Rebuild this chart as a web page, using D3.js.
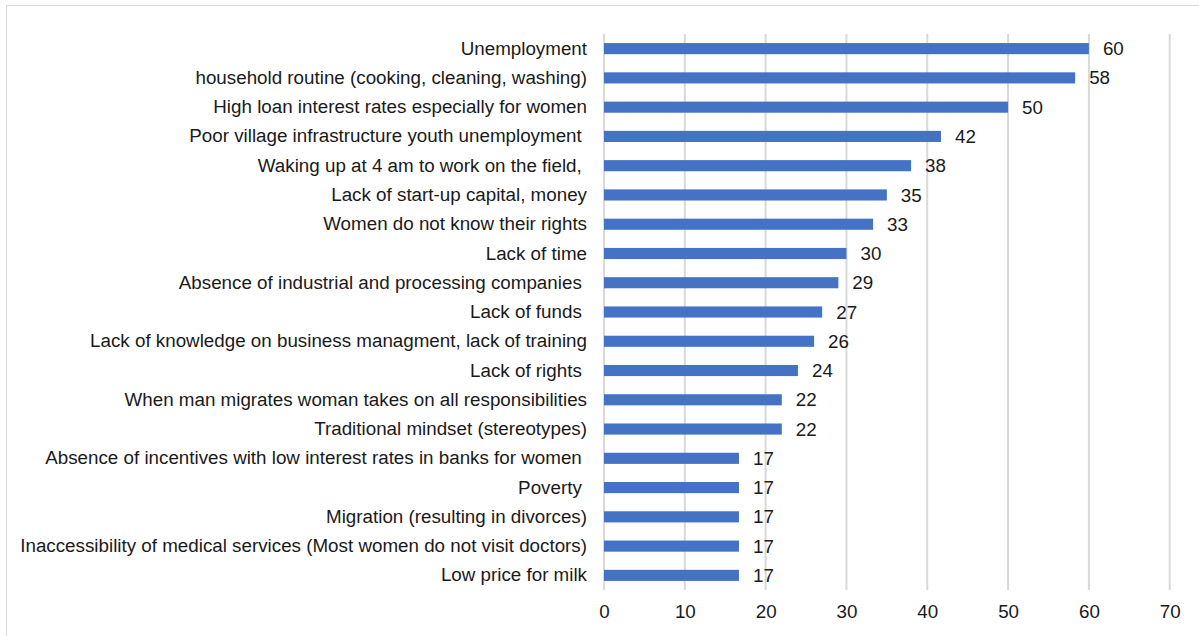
<!DOCTYPE html>
<html>
<head>
<meta charset="utf-8">
<script src="https://cdn.jsdelivr.net/npm/d3@7"></script>
<style>
  body { margin: 0; background: #fff; }
  text { font-family: "Liberation Sans", Arial, sans-serif; fill: #1a1a1a; white-space: pre; }
</style>
</head>
<body>
<div id="chart-area"></div>
<script>
// data (labels show rounded values)
var categories = [
    "Unemployment",
    "household routine (cooking, cleaning, washing)",
    "High loan interest rates especially for women",
    "Poor village infrastructure youth unemployment ",
    "Waking up at 4 am to work on the field, ",
    "Lack of start-up capital, money",
    "Women do not know their rights",
    "Lack of time",
    "Absence of industrial and processing companies ",
    "Lack of funds ",
    "Lack of knowledge on business managment, lack of training",
    "Lack of rights ",
    "When man migrates woman takes on all responsibilities",
    "Traditional mindset (stereotypes)",
    "Absence of incentives with low interest rates in banks for women ",
    "Poverty ",
    "Migration (resulting in divorces)",
    "Inaccessibility of medical services (Most women do not visit doctors)",
    "Low price for milk"
];
var values = [60, 58.3, 50, 41.7, 38, 35, 33.3, 30, 29, 27, 26, 24, 22, 22, 16.7, 16.7, 16.7, 16.7, 16.7];
var xTicks = [0, 10, 20, 30, 40, 50, 60, 70];

var width = 1199;
var height = 636;
var fontSize = "18.8px";

var svg = d3.select("#chart-area")
    .append("svg")
    .attr("width", width)
    .attr("height", height);

// chart frame (right and bottom edges fall outside the picture)
svg.append("rect")
    .attr("x", 6.5)
    .attr("y", 5.5)
    .attr("width", width + 20)
    .attr("height", height + 20)
    .attr("fill", "none")
    .attr("stroke", "#d9d9d9")
    .attr("stroke-width", 1);

var x = d3.scaleLinear()
    .domain([0, 70])
    .range([604, 1169.7]);

var y = d3.scaleBand()
    .domain(categories)
    .range([34, 590])
    .paddingInner(0.62)
    .paddingOuter(0.31);

// gridlines
svg.append("g")
    .selectAll("line")
    .data(xTicks)
    .enter()
    .append("line")
    .attr("x1", function(d) { return x(d); })
    .attr("x2", function(d) { return x(d); })
    .attr("y1", 34)
    .attr("y2", 590)
    .attr("stroke", "#d9d9d9")
    .attr("stroke-width", 2);

// x axis labels
var xAxis = svg.append("g")
    .attr("transform", "translate(0,590)")
    .call(d3.axisBottom(x).tickValues(xTicks).tickSize(0).tickPadding(15));
xAxis.select(".domain").remove();
xAxis.selectAll("text")
    .attr("font-size", fontSize)
    .style("font-family", "'Liberation Sans', Arial, sans-serif")
    .style("fill", "#1a1a1a");

// y axis labels
var yAxis = svg.append("g")
    .attr("transform", "translate(604,0)")
    .call(d3.axisLeft(y).tickSize(0).tickPadding(17));
yAxis.select(".domain").remove();
yAxis.selectAll("text")
    .attr("font-size", fontSize)
    .style("font-family", "'Liberation Sans', Arial, sans-serif")
    .style("fill", "#1a1a1a");

// bars
svg.append("g")
    .selectAll("rect")
    .data(values)
    .enter()
    .append("rect")
    .attr("x", x(0))
    .attr("y", function(d, i) { return y(categories[i]); })
    .attr("width", function(d) { return x(d) - x(0); })
    .attr("height", y.bandwidth())
    .attr("fill", "#4472c4");

// value labels
svg.append("g")
    .selectAll("text")
    .data(values)
    .enter()
    .append("text")
    .attr("x", function(d) { return x(d) + 14; })
    .attr("y", function(d, i) { return y(categories[i]) + y.bandwidth() / 2; })
    .attr("dy", "0.35em")
    .attr("font-size", fontSize)
    .text(function(d) { return d3.format(".0f")(d); });
</script>
</body>
</html>
